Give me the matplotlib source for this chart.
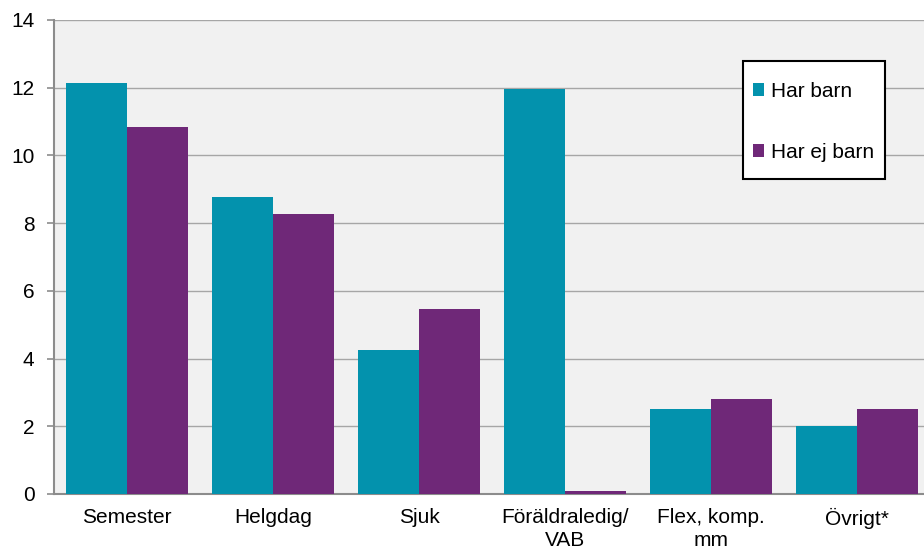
import numpy as np
import matplotlib.pyplot as plt
from matplotlib.patches import Rectangle

plt.rcParams['font.family'] = ['Liberation Sans', 'DejaVu Sans']

# data
categories = ["Semester", "Helgdag", "Sjuk", "Föräldraledig/\nVAB", "Flex, komp.\nmm", "Övrigt*"]
har_barn = [12.15, 8.78, 4.25, 11.97, 2.5, 2.0]
har_ej_barn = [10.85, 8.28, 5.47, 0.08, 2.8, 2.5]

x = np.arange(len(categories))
w = 0.415

fig = plt.figure(figsize=(9.24, 5.49), dpi=100)
ax = fig.add_axes([0.0585, 0.1002, 0.948, 0.8634])
ax.set_facecolor('#F1F1F1')

ax.bar(x - w/2, har_barn, w, color='#0392AD', label='Har barn', zorder=3)
ax.bar(x + w/2, har_ej_barn, w, color='#6F2878', label='Har ej barn', zorder=3)

ax.set_xlim(-0.5, 5.5)
ax.set_ylim(0, 14)
ax.set_yticks(range(0, 15, 2))
ax.grid(axis='y', color='#A6A6A6', linewidth=1, zorder=0)
ax.set_xticks(x)
ax.set_xticklabels(categories, fontsize=15, linespacing=1.25)
ax.tick_params(axis='x', length=0, pad=10)
ax.tick_params(axis='y', labelsize=15, length=5, color='#8C8C8C', width=1.2, pad=9)

for s in ['top', 'right']:
    ax.spines[s].set_visible(False)
for s in ['left', 'bottom']:
    ax.spines[s].set_color('#8C8C8C')
    ax.spines[s].set_linewidth(1.5)

# legend box
box = Rectangle((743/924, 1 - 179/549), 142/924, 118/549,
                transform=fig.transFigure, facecolor='white',
                edgecolor='black', linewidth=1.5, zorder=5, clip_on=False)
ax.add_artist(box)
leg = ax.legend(loc='upper left', bbox_to_anchor=(753/924, 1 - 82/549),
                bbox_transform=fig.transFigure, fontsize=15, frameon=False,
                labelspacing=2.0, handlelength=0.55, handleheight=0.55,
                handletextpad=0.3, borderpad=0, borderaxespad=0)
leg.set_zorder(6)

plt.savefig("out.png", dpi=100)
